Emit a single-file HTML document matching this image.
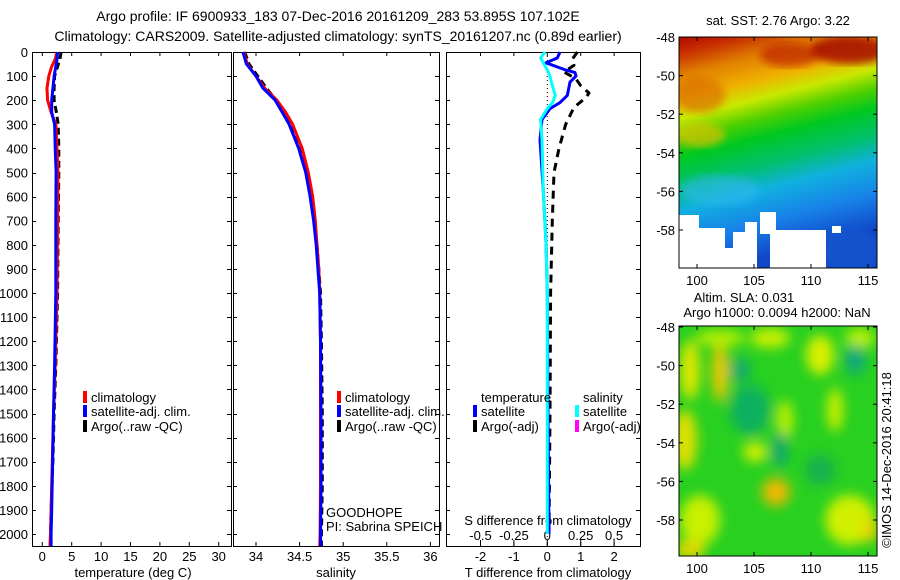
<!DOCTYPE html>
<html><head><meta charset="utf-8"><style>
html,body{margin:0;padding:0;background:#fff;}
svg{display:block;font-family:"Liberation Sans",sans-serif;}
</style></head><body>
<svg id="fig" width="900" height="580" viewBox="0 0 900 580">
<defs>
<linearGradient id="sstGrad" x1="0" y1="0" x2="0.22" y2="1">
<stop offset="0" stop-color="#b00800"/>
<stop offset="0.07" stop-color="#c83000"/>
<stop offset="0.16" stop-color="#e08000"/>
<stop offset="0.26" stop-color="#f0b000"/>
<stop offset="0.34" stop-color="#c8e800"/>
<stop offset="0.42" stop-color="#50d000"/>
<stop offset="0.5" stop-color="#00c820"/>
<stop offset="0.62" stop-color="#00c070"/>
<stop offset="0.72" stop-color="#10b0e0"/>
<stop offset="0.86" stop-color="#1880e8"/>
<stop offset="1" stop-color="#1048c8"/>
</linearGradient>
<filter id="blur4"><feGaussianBlur stdDeviation="4"/></filter>
<filter id="blur6"><feGaussianBlur stdDeviation="6"/></filter>
<clipPath id="clipTop"><rect x="679" y="37" width="198" height="231"/></clipPath>
<clipPath id="clipBot"><rect x="679" y="326" width="198" height="230"/></clipPath>
</defs>

<text x="338" y="21" font-size="14" text-anchor="middle">Argo profile: IF 6900933_183 07-Dec-2016 20161209_283 53.895S 107.102E</text>
<text x="338" y="41" font-size="14" text-anchor="middle">Climatology: CARS2009. Satellite-adjusted climatology: synTS_20161207.nc (0.89d earlier)</text>

<g id="p1"></g>
<g id="p2"></g>
<g id="p3"></g>

<!-- SST map -->
<g>
<text x="778" y="25" font-size="13" text-anchor="middle">sat. SST: 2.76 Argo: 3.22</text>
<g clip-path="url(#clipTop)">
<rect x="679" y="37" width="198" height="231" fill="url(#sstGrad)"/>
<ellipse cx="700" cy="95" rx="25" ry="18" fill="#d86800" opacity="0.6" filter="url(#blur4)"/>
<ellipse cx="850" cy="50" rx="40" ry="14" fill="#a00000" opacity="0.8" filter="url(#blur4)"/>
<ellipse cx="790" cy="55" rx="30" ry="12" fill="#b81000" opacity="0.6" filter="url(#blur4)"/>
<ellipse cx="700" cy="135" rx="25" ry="12" fill="#f0c000" opacity="0.6" filter="url(#blur4)"/>
<ellipse cx="720" cy="190" rx="40" ry="15" fill="#30b8f0" opacity="0.6" filter="url(#blur4)"/>
<ellipse cx="850" cy="250" rx="30" ry="22" fill="#1858d0" opacity="0.7" filter="url(#blur4)"/>
<g fill="#fff">
<rect x="679" y="215" width="20" height="53"/>
<rect x="690" y="228" width="35" height="40"/>
<rect x="700" y="248" width="40" height="20"/>
<rect x="733" y="232" width="20" height="36"/>
<rect x="745" y="222" width="12" height="46"/>
<rect x="760" y="212" width="16" height="22"/>
<rect x="770" y="230" width="56" height="38"/>
<rect x="778" y="248" width="30" height="20"/>
<rect x="806" y="240" width="12" height="28"/>
<rect x="832" y="226" width="9" height="7"/>
</g>
</g>
<rect x="679" y="37" width="198" height="231" fill="none" stroke="#000"/>
<g id="topAxes"></g>
</g>

<text x="744" y="302" font-size="13" text-anchor="middle">Altim. SLA: 0.031</text>
<text x="777" y="317" font-size="13" text-anchor="middle">Argo h1000: 0.0094 h2000: NaN</text>

<!-- SLA map -->
<g>
<g clip-path="url(#clipBot)">
<rect x="679" y="326" width="198" height="230" fill="#28d020"/>
<g filter="url(#blur6)">
<ellipse cx="690" cy="370" rx="10" ry="30" fill="#e0e800"/>
<ellipse cx="720" cy="372" rx="8" ry="30" fill="#f0c800"/>
<ellipse cx="720" cy="338" rx="25" ry="8" fill="#b8f000"/>
<ellipse cx="770" cy="338" rx="20" ry="10" fill="#c8f000"/>
<ellipse cx="820" cy="355" rx="14" ry="20" fill="#d8f000"/>
<ellipse cx="860" cy="338" rx="15" ry="10" fill="#b8f000"/>
<ellipse cx="685" cy="440" rx="12" ry="30" fill="#e0e000"/>
<ellipse cx="755" cy="452" rx="12" ry="10" fill="#d0f000"/>
<ellipse cx="785" cy="420" rx="8" ry="20" fill="#c0f000"/>
<ellipse cx="835" cy="410" rx="8" ry="22" fill="#c8f000"/>
<ellipse cx="776" cy="492" rx="14" ry="14" fill="#f0b800"/>
<ellipse cx="700" cy="520" rx="20" ry="25" fill="#c8f000"/>
<ellipse cx="690" cy="550" rx="15" ry="10" fill="#e0d800"/>
<ellipse cx="850" cy="520" rx="25" ry="25" fill="#d0f000"/>
<ellipse cx="870" cy="530" rx="8" ry="12" fill="#f0d000"/>
<ellipse cx="750" cy="410" rx="20" ry="25" fill="#10b060"/>
<ellipse cx="780" cy="450" rx="8" ry="18" fill="#10a870"/>
<ellipse cx="855" cy="360" rx="10" ry="15" fill="#10a880"/>
<ellipse cx="740" cy="370" rx="10" ry="12" fill="#10a870"/>
<ellipse cx="820" cy="470" rx="15" ry="15" fill="#18b050"/>
</g>
</g>
<rect x="679" y="326" width="198" height="230" fill="none" stroke="#000"/>
<g id="botAxes"></g>
</g>

<text transform="translate(891,460) rotate(-90)" font-size="13" text-anchor="middle">©IMOS 14-Dec-2016 20:41:18</text>
</svg>

<script>
// ---------- data ----------
const depthTicks = [0,100,200,300,400,500,600,700,800,900,1000,1100,1200,1300,1400,1500,1600,1700,1800,1900,2000];
const tempTicks = [0,5,10,15,20,25,30];
const salTicks = [34,34.5,35,35.5,36];
const tdiffTicks = [-2,-1,0,1,2];
const sdiffTicks = [-0.5,-0.25,0,0.25,0.5];
const sdiffTickLabels = ["-0.5","-0.25","0","0.25","0.5"];
const latTicks = [-48,-50,-52,-54,-56,-58];
const lonTicks = [100,105,110,115];

const tDepths = [0,30,60,100,150,200,250,300,400,500,700,1000,1300,1500,1700,1900,2000,2050];
const tempClim = [2.5,2.2,1.6,1.1,0.8,0.9,1.5,2.3,2.5,2.65,2.6,2.5,2.2,1.9,1.7,1.5,1.4,1.3];
const tempSat  = [2.6,2.5,2.3,2.0,1.8,1.6,1.6,2.1,2.2,2.35,2.3,2.3,2.1,1.9,1.75,1.6,1.5,1.5];
const tempArgo = [3.2,3.0,2.6,2.1,2.0,2.0,2.4,2.7,2.8,2.8,2.7,2.6,2.3,2.0,1.8,1.5,1.4,1.4];

const sDepths = [0,50,100,150,200,250,300,400,500,600,700,800,900,1000,1200,1500,1800,2000,2050];
const salClim = [33.86,33.9,34.0,34.1,34.24,34.34,34.42,34.53,34.6,34.65,34.68,34.7,34.72,34.73,34.74,34.74,34.74,34.735,34.73];
const salSat  = [33.85,33.89,34.0,34.08,34.22,34.3,34.38,34.49,34.57,34.62,34.66,34.69,34.71,34.73,34.74,34.745,34.745,34.74,34.74];
const salArgo = [33.87,33.92,34.02,34.12,34.23,34.32,34.4,34.51,34.59,34.64,34.67,34.7,34.72,34.74,34.75,34.76,34.76,34.75,34.75];

const dDepths = [0,25,45,75,85,100,125,180,210,235,280,365,575,790,1000,1500,2000];
const tdiffSat = [0.38,0.3,-0.04,0.56,0.83,0.86,0.68,0.6,0.38,0.08,-0.16,-0.22,-0.12,-0.04,0.0,0.02,0.05];
const ad = [0,30,55,83,110,140,170,190,230,300,400,500,700,1000,1500,2000];
const tdiffArgo = [0.9,0.75,0.8,0.5,0.85,1.0,1.25,1.15,0.8,0.55,0.35,0.2,0.15,0.1,0.08,0.05];
const sdiffSat = [-0.017,-0.05,-0.03,0.0,0.01,0.02,0.03,0.06,0.04,0.0,-0.05,-0.04,-0.03,-0.01,0.0,0.0,0.0];

// ---------- scales ----------
const yD = d => 52 + d*0.241;
const xT = t => 42.3 + 5.88*t;
const xS = s => 256 + 87.2*(s-34);
const xTd = t => 547.3 + 33.4*t;
const xSd = s => 547.3 + 133.6*s;
const xLon = l => 697 + 11.4*(l-100);
const yLatTop = l => 37 + 19.3*(-48-l);
const yLatBot = l => 327 + 19.3*(-48-l);

const NS = "http://www.w3.org/2000/svg";
function mk(parent, tag, attrs, txt){
  const e = document.createElementNS(NS, tag);
  for (const k in attrs) e.setAttribute(k, attrs[k]);
  if (txt !== undefined) e.textContent = txt;
  parent.appendChild(e);
  return e;
}
function pathFrom(vals, depths, xf){
  return vals.map((v,i)=> (i?'L':'M') + xf(v).toFixed(1) + ',' + yD(depths[i]).toFixed(1)).join(' ');
}

function panelFrame(g, x0, x1, name){
  const r = mk(g,'rect',{x:x0+0.5,y:52.5,width:x1-x0,height:494,fill:'none',stroke:'#000'});
  
  
  depthTicks.forEach(d=>{
    const y = Math.round(yD(d))+0.5;
    mk(g,'line',{x1:x0,x2:x0+4,y1:y,y2:y,stroke:'#000'});
    mk(g,'line',{x1:x1,x2:x1-4,y1:y,y2:y,stroke:'#000'});
  });
}
function line(g, d, color, name, dash){
  const p = mk(g,'path',{d:d,fill:'none',stroke:color,'stroke-width':3,'stroke-linejoin':'round'});
  if (dash) p.setAttribute('stroke-dasharray', dash);
  
  
}
function legend(g, x, y, color, label, name){
  mk(g,'rect',{x:x,y:y-9,width:4,height:12,fill:color});
  const t = mk(g,'text',{x:x+8,y:y+2,'font-size':13},label);
  
  
}

// ---- panel 1 ----
const p1 = document.getElementById('p1');
panelFrame(p1, 32, 231, 'temperature');
depthTicks.forEach(d=>{
  const t = mk(p1,'text',{x:28,y:yD(d)+5,'font-size':13,'text-anchor':'end'},String(d));
  
  
});
tempTicks.forEach(v=>{
  mk(p1,'line',{x1:xT(v),x2:xT(v),y1:546,y2:542,stroke:'#000'});
  mk(p1,'line',{x1:xT(v),x2:xT(v),y1:52,y2:56,stroke:'#000'});
  const t = mk(p1,'text',{x:xT(v),y:561,'font-size':13,'text-anchor':'middle'},String(v));
  
  
});
const xl1 = mk(p1,'text',{x:133,y:577,'font-size':13,'text-anchor':'middle'},'temperature (deg C)');


line(p1, pathFrom(tempArgo,tDepths,xT), '#000', 'temp-argo-line', '7,4');
line(p1, pathFrom(tempClim,tDepths,xT), '#f00', 'temp-climatology-line');
line(p1, pathFrom(tempSat,tDepths,xT), '#00f', 'temp-satellite-line');
legend(p1, 83, 400, '#f00', 'climatology', 'legend-climatology');
legend(p1, 83, 414, '#00f', 'satellite-adj. clim.', 'legend-satellite');
legend(p1, 83, 429, '#000', 'Argo(..raw -QC)', 'legend-argo');

// ---- panel 2 ----
const p2 = document.getElementById('p2');
panelFrame(p2, 233, 439, 'salinity');
salTicks.forEach(v=>{
  mk(p2,'line',{x1:xS(v),x2:xS(v),y1:546,y2:542,stroke:'#000'});
  mk(p2,'line',{x1:xS(v),x2:xS(v),y1:52,y2:56,stroke:'#000'});
  const t = mk(p2,'text',{x:xS(v),y:561,'font-size':13,'text-anchor':'middle'},String(v));
  
  
});
const xl2 = mk(p2,'text',{x:336,y:577,'font-size':13,'text-anchor':'middle'},'salinity');


line(p2, pathFrom(salArgo,sDepths,xS), '#000', 'sal-argo-line', '7,4');
line(p2, pathFrom(salClim,sDepths,xS), '#f00', 'sal-climatology-line');
line(p2, pathFrom(salSat,sDepths,xS), '#00f', 'sal-satellite-line');
legend(p2, 337, 400, '#f00', 'climatology', 'legend-climatology-2');
legend(p2, 337, 414, '#00f', 'satellite-adj. clim.', 'legend-satellite-2');
legend(p2, 337, 429, '#000', 'Argo(..raw -QC)', 'legend-argo-2');
const gh = mk(p2,'text',{x:326,y:517,'font-size':13},'GOODHOPE');


const pi = mk(p2,'text',{x:326,y:531,'font-size':13},'PI: Sabrina SPEICH');



// ---- panel 3 ----
const p3 = document.getElementById('p3');
panelFrame(p3, 446, 640, 'difference');
mk(p3,'line',{x1:xTd(0),x2:xTd(0),y1:52,y2:546,stroke:'#000','stroke-dasharray':'1,3'});
tdiffTicks.forEach(v=>{
  mk(p3,'line',{x1:xTd(v),x2:xTd(v),y1:546,y2:542,stroke:'#000'});
  mk(p3,'line',{x1:xTd(v),x2:xTd(v),y1:52,y2:56,stroke:'#000'});
  const t = mk(p3,'text',{x:xTd(v),y:561,'font-size':13,'text-anchor':'middle'},String(v));
  
  
});
sdiffTicks.forEach((v,i)=>{
  mk(p3,'line',{x1:xSd(v),x2:xSd(v),y1:546,y2:540,stroke:'#000'});
  const t = mk(p3,'text',{x:xSd(v),y:540,'font-size':13,'text-anchor':'middle'},sdiffTickLabels[i]);
  
  
});
const sl = mk(p3,'text',{x:548,y:525,'font-size':13,'text-anchor':'middle'},'S difference from climatology');


const xl3 = mk(p3,'text',{x:548,y:577,'font-size':13,'text-anchor':'middle'},'T difference from climatology');


line(p3, pathFrom(tdiffArgo,ad,xTd), '#000', 'tdiff-argo-line', '8,6');
line(p3, pathFrom(tdiffSat,dDepths,xTd), '#00f', 'tdiff-satellite-line');
line(p3, pathFrom(sdiffSat,dDepths,xSd), '#0ff', 'sdiff-satellite-line');
const lt = mk(p3,'text',{x:481,y:402,'font-size':13},'temperature');


const ls = mk(p3,'text',{x:583,y:402,'font-size':13},'salinity');


legend(p3, 473, 414, '#00f', 'satellite', 'legend-t-satellite');
legend(p3, 473, 429, '#000', 'Argo(-adj)', 'legend-t-argo');
legend(p3, 575, 414, '#0ff', 'satellite', 'legend-s-satellite');
legend(p3, 575, 429, '#f0f', 'Argo(-adj)', 'legend-s-argo');

// ---- map axes ----
function mapAxes(id, y0, y1, yl){
  const g = document.getElementById(id);
  latTicks.forEach(l=>{
    const y = yl(l);
    mk(g,'line',{x1:679,x2:683,y1:y,y2:y,stroke:'#000'});
    mk(g,'line',{x1:877,x2:873,y1:y,y2:y,stroke:'#000'});
    const t = mk(g,'text',{x:675,y:y+5,'font-size':13,'text-anchor':'end'},String(l));
    
    
  });
  lonTicks.forEach(l=>{
    const x = xLon(l);
    mk(g,'line',{x1:x,x2:x,y1:y1,y2:y1-4,stroke:'#000'});
    mk(g,'line',{x1:x,x2:x,y1:y0,y2:y0+4,stroke:'#000'});
    const t = mk(g,'text',{x:x,y:y1+17,'font-size':13,'text-anchor':'middle'},String(l));
    
    
  });
}
mapAxes('topAxes', 37, 268, yLatTop);
mapAxes('botAxes', 326, 556, yLatBot);
</script>
</body></html>
